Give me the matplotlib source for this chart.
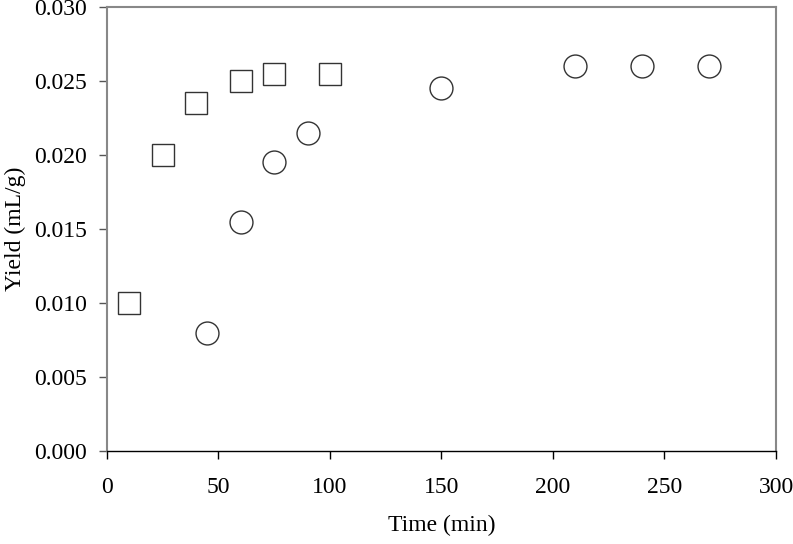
import matplotlib
matplotlib.use('Agg')
import matplotlib.pyplot as plt

#data
sq_time = [10, 25, 40, 60, 75, 100]
sq_yield = [0.010, 0.020, 0.0235, 0.025, 0.0255, 0.0255]
ci_time = [45, 60, 75, 90, 150, 210, 240, 270]
ci_yield = [0.008, 0.0155, 0.0195, 0.0215, 0.0245, 0.026, 0.026, 0.026]

x_ticks = [0, 50, 100, 150, 200, 250, 300]
y_ticks = [0.000, 0.005, 0.010, 0.015, 0.020, 0.025, 0.030]

plt.rcParams['font.family'] = ['Liberation Serif', 'DejaVu Serif']

fig = plt.figure(figsize=(7.93, 5.44), dpi=100)
ax = fig.add_axes([0.1346, 0.171, 0.844, 0.816])

ax.plot(sq_time, sq_yield, 's', markersize=16, markerfacecolor='white',
        markeredgecolor='#333333', markeredgewidth=1.0, linestyle='none')
ax.plot(ci_time, ci_yield, 'o', markersize=16.5, markerfacecolor='white',
        markeredgecolor='#333333', markeredgewidth=1.0, linestyle='none')

ax.set_xlim(0, 300)
ax.set_ylim(0, 0.030)
ax.set_xticks(x_ticks)
ax.set_yticks(y_ticks)
ax.set_yticklabels([f'{v:.3f}' for v in y_ticks])
ax.tick_params(direction='out', length=6, width=1, labelsize=17, colors='black')
ax.tick_params(axis='x', pad=13)
ax.tick_params(axis='y', colors='#555555', labelcolor='black', pad=8)

for side in ['left', 'top', 'right']:
    ax.spines[side].set_color('#888888')
    ax.spines[side].set_linewidth(1.5)
ax.spines['bottom'].set_color('black')
ax.spines['bottom'].set_linewidth(1.0)

ax.set_xlabel('Time (min)', fontsize=17, labelpad=12)
ax.set_ylabel('Yield (mL/g)', fontsize=17, labelpad=6)

fig.savefig('out.png', dpi=100)
